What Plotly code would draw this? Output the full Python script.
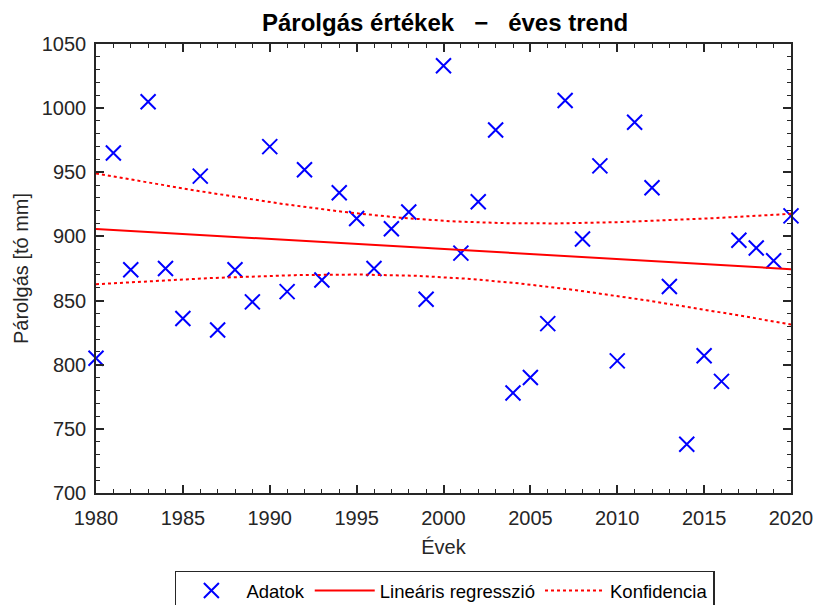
import numpy as np
import plotly.graph_objects as go

years = list(range(1980, 2021))
values = [805, 965, 874, 1005, 875, 836, 947, 827, 874, 849,
          970, 857, 952, 866, 934, 914, 875, 906, 919, 851,
          1033, 887, 927, 983, 778, 790, 832, 1006, 898, 955,
          803, 989, 938, 861, 738, 807, 787, 897, 891, 881, 916]

x = np.array(years, dtype=float)
y = np.array(values, dtype=float)
n = len(x)
b, a = np.polyfit(x, y, 1)
xf = np.linspace(x.min(), x.max(), 200)
yf = a + b * xf
res = y - (a + b * x)
s = np.sqrt(np.sum(res ** 2) / (n - 2))
sxx = np.sum((x - x.mean()) ** 2)
t = 2.0227  # t(0.975, df=39)
hw = t * s * np.sqrt(1 / n + (xf - x.mean()) ** 2 / sxx)

FONT = "Liberation Sans, Arial, sans-serif"
AX = "#262626"
fig = go.Figure()
fig.add_trace(go.Scatter(x=years, y=values, mode="markers", name="Adatok", cliponaxis=False,
                         marker=dict(symbol="x-thin", size=15, color="#0000ff",
                                     line=dict(color="#0000ff", width=2))))
fig.add_trace(go.Scatter(x=xf, y=yf, mode="lines", name="Lineáris regresszió",
                         line=dict(color="#ff0000", width=2)))
fig.add_trace(go.Scatter(x=xf, y=yf + hw, mode="lines", name="Konfidencia",
                         line=dict(color="#ff0000", width=2, dash="dot")))
fig.add_trace(go.Scatter(x=xf, y=yf - hw, mode="lines", name="Konfidencia", showlegend=False,
                         line=dict(color="#ff0000", width=2, dash="dot")))
# dummy trace to show mirrored top/right axes with minor ticks
fig.add_trace(go.Scatter(x=[None], y=[None], xaxis="x2", yaxis="y2", showlegend=False,
                         hoverinfo="skip"))

axis_common = dict(showline=True, linecolor=AX, linewidth=1.5,
                   ticks="inside", ticklen=8, tickcolor=AX, tickwidth=1.5,
                   showgrid=False, zeroline=False,
                   tickfont=dict(family=FONT, size=20, color=AX))
xminor = dict(ticks="inside", ticklen=4, dtick=1, tickcolor=AX, tickwidth=1)
yminor = dict(ticks="inside", ticklen=4, dtick=10, tickcolor=AX, tickwidth=1)

fig.update_layout(
    xaxis=dict(range=[1980, 2020], tickmode="linear", tick0=1980, dtick=5, minor=xminor,
               ticklabelstandoff=6,
               title=dict(text="Évek", font=dict(family=FONT, size=20, color=AX), standoff=12),
               **axis_common),
    yaxis=dict(range=[700, 1050], tickmode="linear", tick0=700, dtick=50, minor=yminor,
               ticklabelstandoff=4,
               title=dict(text="Párolgás [tó mm]", font=dict(family=FONT, size=20, color=AX), standoff=8),
               **axis_common),
    xaxis2=dict(overlaying="x", side="top", range=[1980, 2020], tickmode="linear", tick0=1980, dtick=5,
                minor=xminor, showticklabels=False, **axis_common),
    yaxis2=dict(overlaying="y", side="right", range=[700, 1050], tickmode="linear", tick0=700, dtick=50,
                minor=yminor, showticklabels=False, **axis_common),
)

fig.update_layout(
    width=816, height=605,
    margin=dict(l=96, r=25, t=44, b=112, autoexpand=False),
    paper_bgcolor="white", plot_bgcolor="white",
    title=dict(text="<b>Párolgás értékek \u00a0\u00a0−\u00a0\u00a0 éves trend</b>", x=0.5455, xanchor="center",
               y=0.962, yanchor="middle", font=dict(family=FONT, size=24, color="black")),
    legend=dict(orientation="h", x=0.502, xanchor="center", xref="paper",
                y=0.057, yanchor="top", yref="container",
                bordercolor=AX, borderwidth=1.5, bgcolor="white",
                font=dict(family=FONT, size=18.5, color="black"), itemwidth=60),
    showlegend=True,
)
fig.write_html("out.html")
